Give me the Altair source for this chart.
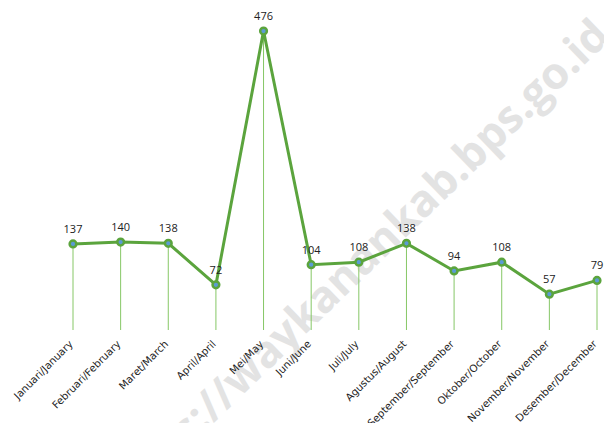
import altair as alt
import pandas as pd

months = ["Januari/January", "Februari/February", "Maret/March", "April/April",
          "Mei/May", "Juni/June", "Juli/July", "Agustus/August",
          "September/September", "Oktober/October", "November/November",
          "Desember/December"]
values = [137, 140, 138, 72, 476, 104, 108, 138, 94, 108, 57, 79]

df = pd.DataFrame({"month": months, "value": values})

FONT = "Open Sans"
LINE = "#5ba43d"
DROP = "#86c766"

x = alt.X("month:N", sort=months,
          scale=alt.Scale(type="point", padding=0),
          axis=alt.Axis(title=None, labelAngle=315, labelAlign="right",
                        labelBaseline="middle", labelPadding=12, labelOffset=-2,
                        labelFont="DejaVu Sans", labelFontSize=10.3, labelColor="#222",
                        domain=False, ticks=False, grid=False, zindex=1))
y = alt.Y("value:Q", scale=alt.Scale(domain=[0, 500], nice=False, zero=True),
          axis=None)

base = alt.Chart(df)

watermark = alt.Chart(pd.DataFrame({"t": ["https://waykanankab.bps.go.id"]})).mark_text(
    font=FONT, fontSize=44, fontWeight="bold", color="#e3e3e3",
    angle=316, align="right", baseline="middle"
).encode(text="t:N", x=alt.value(530), y=alt.value(13))

rules = base.mark_rule(color=DROP, strokeWidth=1).encode(
    x=x, y=y, y2=alt.datum(0))

line = base.mark_line(color=LINE, strokeWidth=3).encode(x=x, y=y)

points = base.mark_point(filled=True, fill="#5b9bd5", stroke=LINE,
                         strokeWidth=2.5, size=45, opacity=1).encode(x=x, y=y)

labels = base.mark_text(font=FONT, fontSize=11, color="#222",
                        baseline="bottom", dy=-9).encode(
    x=x, y=y, text="value:Q")

chart = alt.layer(watermark, rules, line, points, labels).properties(
    width=524, height=314,
    autosize=alt.AutoSizeParams(type="none"),
    padding={"left": 65, "top": 8, "right": 7, "bottom": 93},
).configure_view(stroke=None)

chart.save("out.html", embed_options={"renderer": "svg", "actions": False})
